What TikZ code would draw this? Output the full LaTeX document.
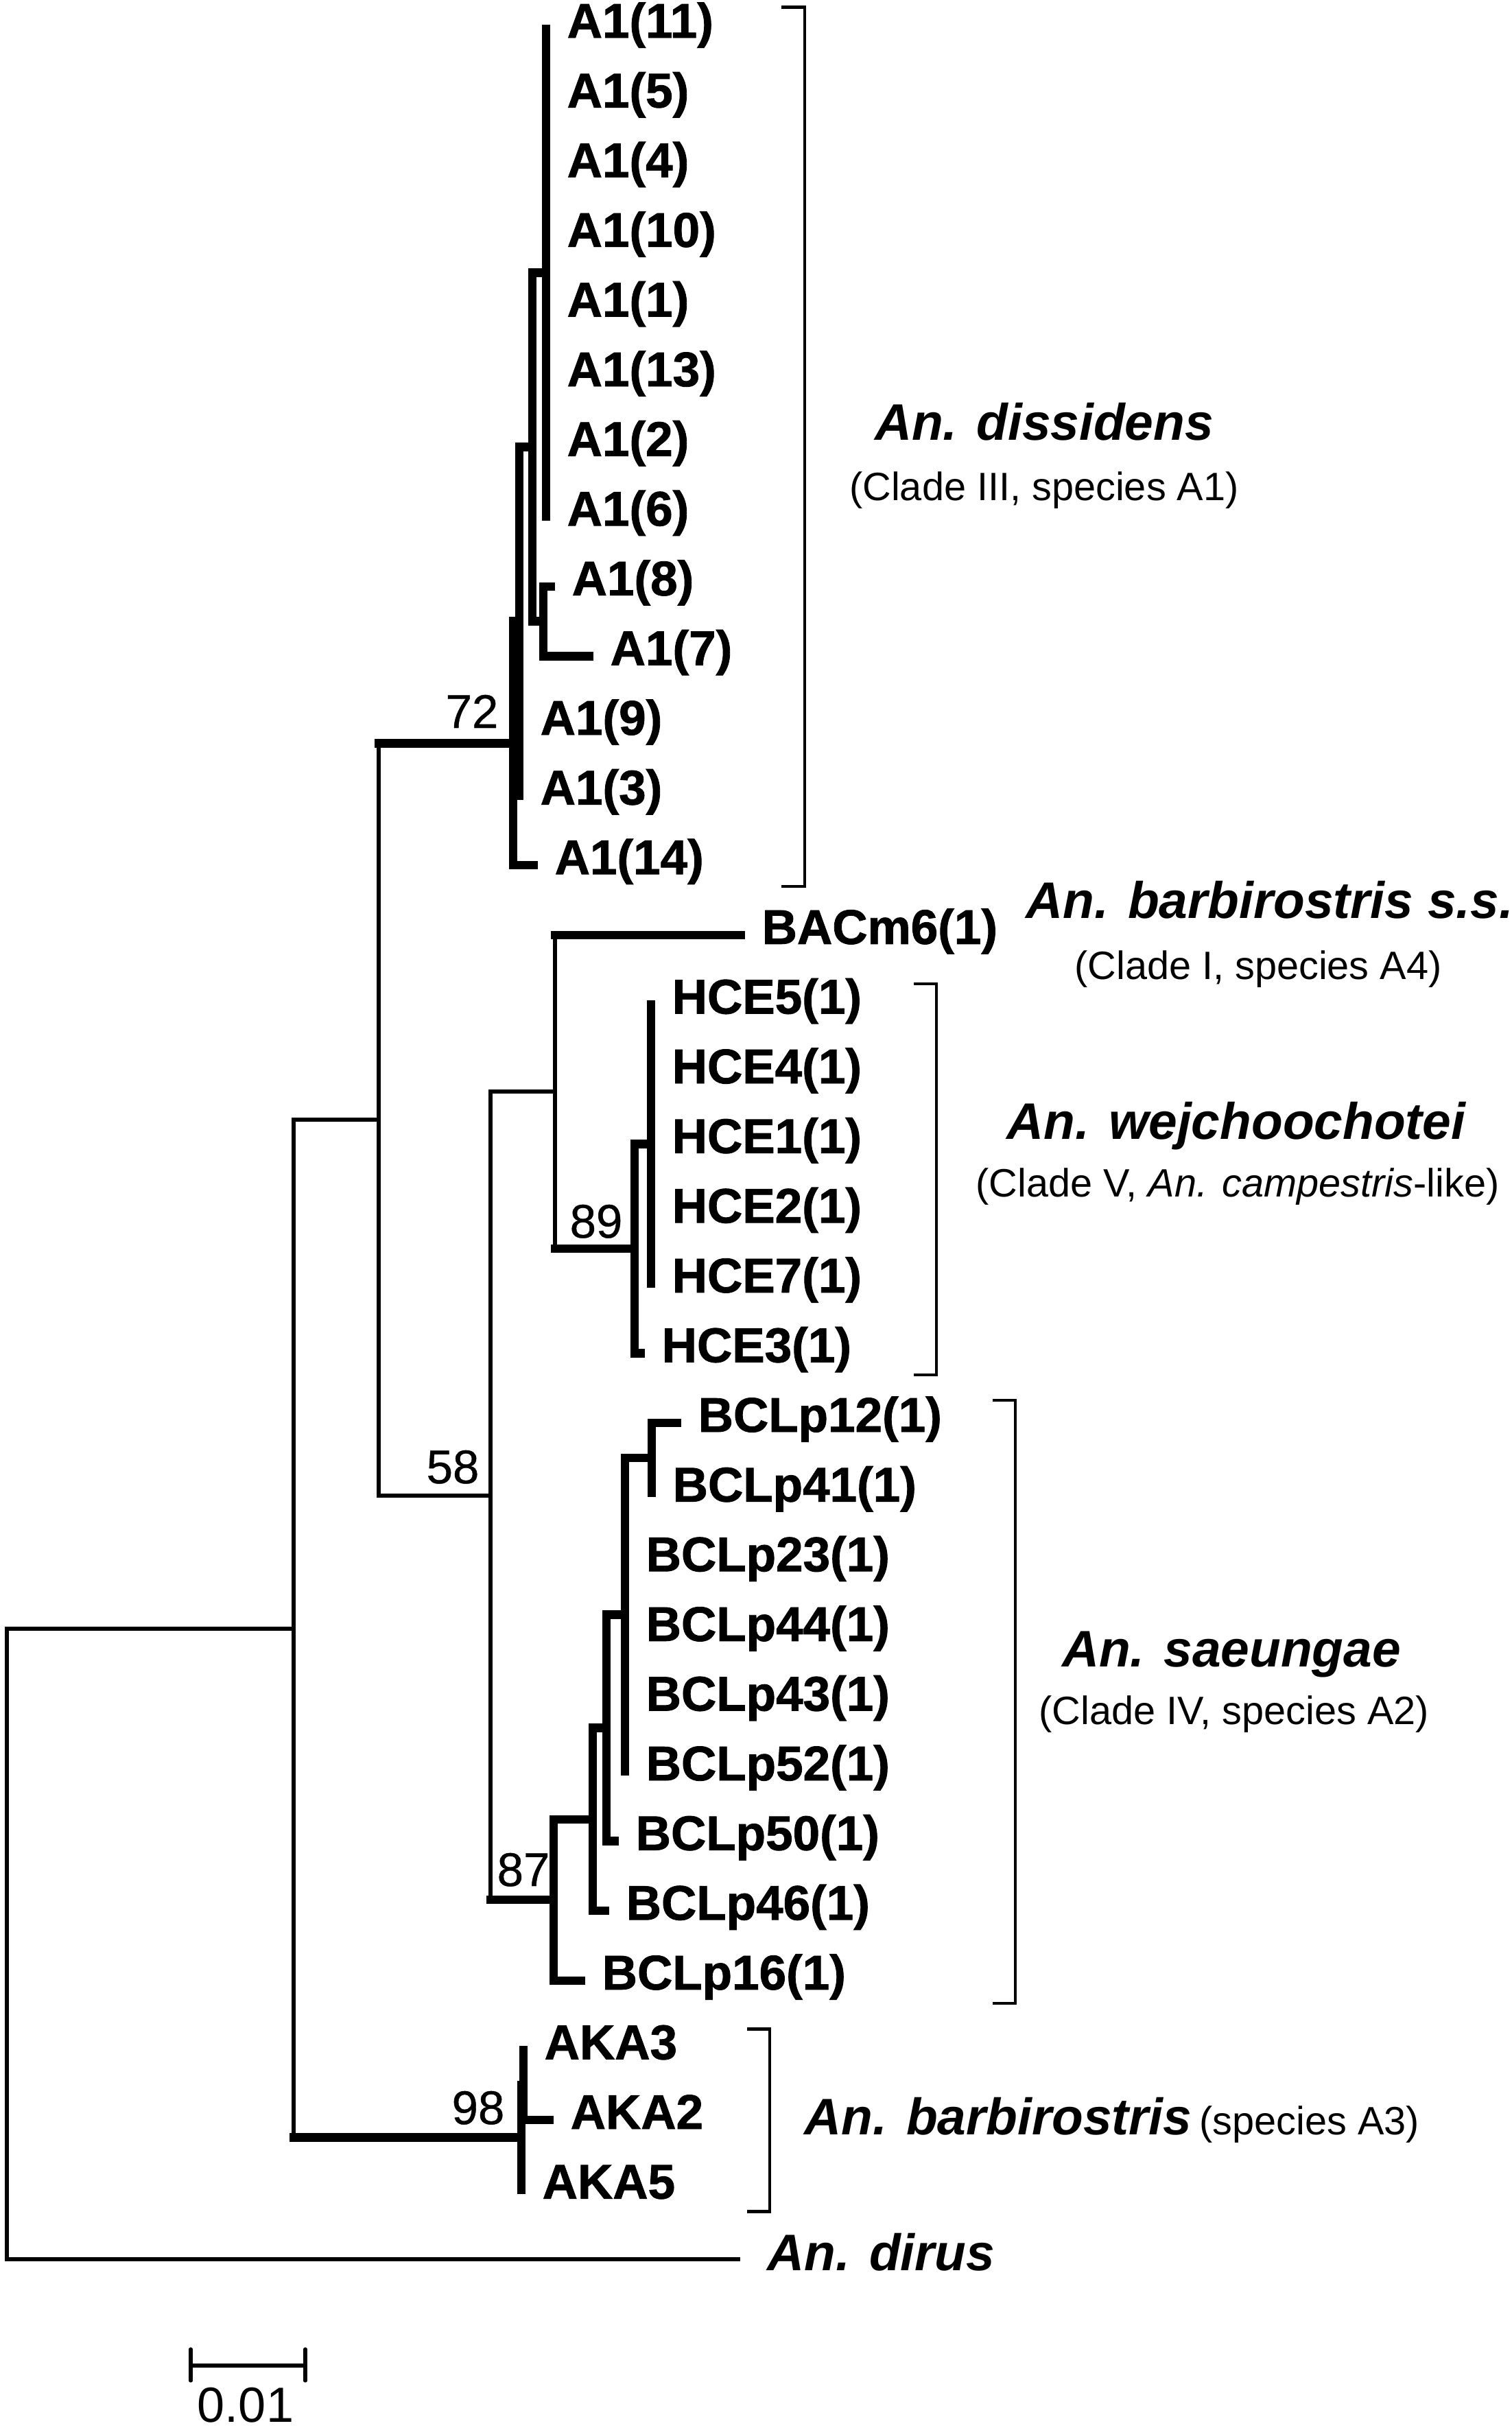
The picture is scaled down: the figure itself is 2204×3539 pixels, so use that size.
\documentclass[tikz,border=0pt]{standalone}
\usepackage{fontspec}
\setmainfont{Liberation Sans}
\newfontface\leafface[FakeBold=1.2]{Liberation Sans Bold}
\newfontface\bsface[FakeBold=0.6]{Liberation Sans}
\usetikzlibrary{calc}
\newcommand{\leaffont}{\fontsize{20.2pt}{24pt}\leafface}
\newcommand{\spfont}{\fontsize{21.3pt}{25pt}\selectfont\bfseries\itshape}
\newcommand{\descfont}{\fontsize{16.4pt}{19pt}\selectfont}
\newcommand{\bsfont}{\fontsize{19.6pt}{22pt}\bsface}
\newcommand{\vstem}[4]{% #1 line style, #2 node, #3 first child, #4 last child
  \draw[#1] (#2 |- #3) -- (#2 |- #4);}
\newcommand{\hbranch}[3]{% #1 line style, #2 parent node, #3 child
  \draw[#1] (#2 |- #3) -- (#3);}
\newcommand{\tip}[4]{% #1 name, #2 x, #3 y, #4 label
  \coordinate (#1) at (#2,#3);
  \node[leaf] (t#1) at (#1) {#4};}
\newcommand{\cladebracket}[4]{% #1 left x, #2 right x, #3 top y, #4 bottom y
  \draw[brk] (#1,#3) -- (#2,#3) -- (#2,#4) -- (#1,#4);}

\begin{document}
\begin{tikzpicture}[x=0.01cm, y=-0.01cm,
    thk/.style={line width=3.5pt, line cap=rect},
    thn/.style={line width=1.7pt, line cap=rect},
    brk/.style={line width=1.4pt},
    bar/.style={line width=1.5pt, line cap=round},
    leaf/.style={anchor=base west, inner sep=0pt, xshift=0.3cm, yshift=-0.13cm, font=\leaffont},
    boot/.style={anchor=base, inner sep=0pt, font=\bsfont},
    species/.style={anchor=base, inner sep=0pt, font=\spfont},
    desc/.style={anchor=base, inner sep=0pt, font=\descfont}]
  \useasboundingbox (0,0) rectangle (2204,3539);

  % internal nodes
  \coordinate (V1) at (796,397.6);
  \coordinate (V5) at (792,905.6);
  \coordinate (V2) at (776,651.6);
  \coordinate (V3) at (757,905.6);
  \coordinate (N72) at (748,1083.4);
  \coordinate (Nh) at (949,1667.6);
  \coordinate (Ng) at (925,1820);
  \coordinate (Nf) at (809,1591.4);
  \coordinate (Na) at (950,2124.8);
  \coordinate (Nb) at (911,2353.4);
  \coordinate (Nc) at (884,2518.5);
  \coordinate (Nd) at (864,2651.9);
  \coordinate (Ne) at (807,2769.3);
  \coordinate (N58) at (715,2180.4);
  \coordinate (N553) at (552,1631.9);
  \coordinate (Nk) at (763,3039.2);
  \coordinate (N98) at (760,3115.4);
  \coordinate (N428) at (428,2373.6);
  \coordinate (root) at (10,2833.4);

  % leaves
  \tip{a11}{796}{42}{A1(11)}
  \tip{a5}{796}{143.6}{A1(5)}
  \tip{a4}{796}{245.2}{A1(4)}
  \tip{a10}{796}{346.8}{A1(10)}
  \tip{a1}{796}{448.4}{A1(1)}
  \tip{a13}{796}{550}{A1(13)}
  \tip{a2}{796}{651.6}{A1(2)}
  \tip{a6}{796}{753.2}{A1(6)}
  \tip{a8}{803}{854.8}{A1(8)}
  \tip{a7}{859}{956.4}{A1(7)}
  \tip{a9}{757}{1058}{A1(9)}
  \tip{a3}{757}{1159.6}{A1(3)}
  \tip{a14}{778}{1261.2}{A1(14)}
  \tip{bac}{1080}{1362.8}{BACm6(1)}
  \tip{h5}{949}{1464.4}{HCE5(1)}
  \tip{h4}{949}{1566}{HCE4(1)}
  \tip{h1}{949}{1667.6}{HCE1(1)}
  \tip{h2}{949}{1769.2}{HCE2(1)}
  \tip{h7}{949}{1870.8}{HCE7(1)}
  \tip{h3}{934}{1972.4}{HCE3(1)}
  \tip{b12}{987}{2074}{BCLp12(1)}
  \tip{b41}{950}{2175.6}{BCLp41(1)}
  \tip{b23}{911}{2277.2}{BCLp23(1)}
  \tip{b44}{911}{2378.8}{BCLp44(1)}
  \tip{b43}{911}{2480.4}{BCLp43(1)}
  \tip{b52}{911}{2582}{BCLp52(1)}
  \tip{b50}{896}{2683.6}{BCLp50(1)}
  \tip{b46}{882}{2785.2}{BCLp46(1)}
  \tip{b16}{847}{2886.8}{BCLp16(1)}
  \tip{k3}{763}{2988.4}{AKA3}
  \tip{k2}{801}{3090}{AKA2}
  \tip{k5}{760}{3191.6}{AKA5}
  \coordinate (dir) at (1076,3293.2);
  \node[species, anchor=base west] (tdir) at (1118,3309) {An. dirus};

  % vertical lines
  \vstem{thk}{V1}{a11}{a6}
  \vstem{thk}{V5}{a8}{a7}
  \vstem{thk}{V2}{V1}{V5}
  \vstem{thk}{V3}{V2}{a3}
  \vstem{thk}{N72}{V3}{a14}
  \vstem{thk}{Nh}{h5}{h7}
  \vstem{thk}{Ng}{Nh}{h3}
  \vstem{thn}{Nf}{bac}{Ng}
  \vstem{thk}{Na}{b12}{b41}
  \vstem{thk}{Nb}{Na}{b52}
  \vstem{thk}{Nc}{Nb}{b50}
  \vstem{thk}{Nd}{Nc}{b46}
  \vstem{thk}{Ne}{Nd}{b16}
  \vstem{thn}{N58}{Nf}{Ne}
  \vstem{thn}{N553}{N72}{N58}
  \vstem{thk}{Nk}{k3}{k2}
  \vstem{thk}{N98}{Nk}{k5}
  \vstem{thn}{N428}{N553}{N98}
  \vstem{thn}{root}{N428}{dir}

  % horizontal branches
  \hbranch{thk}{V5}{a8}
  \hbranch{thk}{V5}{a7}
  \hbranch{thk}{V2}{V1}
  \hbranch{thk}{V2}{V5}
  \hbranch{thk}{V3}{V2}
  \hbranch{thk}{N72}{V3}
  \hbranch{thk}{N72}{a14}
  \hbranch{thk}{N553}{N72}
  \hbranch{thk}{Ng}{Nh}
  \hbranch{thk}{Ng}{h3}
  \hbranch{thk}{Nf}{bac}
  \hbranch{thk}{Nf}{Ng}
  \hbranch{thk}{Na}{b12}
  \hbranch{thk}{Nb}{Na}
  \hbranch{thk}{Nc}{Nb}
  \hbranch{thk}{Nc}{b50}
  \hbranch{thk}{Nd}{Nc}
  \hbranch{thk}{Nd}{b46}
  \hbranch{thk}{Ne}{Nd}
  \hbranch{thk}{Ne}{b16}
  \hbranch{thn}{N58}{Nf}
  \hbranch{thk}{N58}{Ne}
  \hbranch{thn}{N553}{N58}
  \hbranch{thk}{Nk}{k2}
  \hbranch{thk}{N98}{Nk}
  \hbranch{thn}{N428}{N553}
  \hbranch{thk}{N428}{N98}
  \hbranch{thn}{root}{N428}
  \hbranch{thn}{root}{dir}

  % bootstrap values
  \node[boot] (bs72) at (688,1061) {72};
  \node[boot] (bs89) at (869,1804) {89};
  \node[boot] (bs58) at (660,2162) {58};
  \node[boot] (bs87) at (763,2749) {87};
  \node[boot] (bs98) at (697,3096) {98};

  % clade brackets and names
  \cladebracket{1139}{1173}{10.5}{1292}
  \cladebracket{1332}{1365}{1434}{2004}
  \cladebracket{1447}{1480}{2041}{2920}
  \cladebracket{1089}{1122}{2957}{3223}
  \node[species] (sp1) at (1522,641) {An. dissidens};
  \node[desc] (ds1) at (1522,729) {(Clade III, species A1)};
  \node[species] (sp2) at (1851,1338) {An. barbirostris s.s.};
  \node[desc] (ds2) at (1834,1427) {(Clade I, species A4)};
  \node[species] (sp3) at (1802,1660) {An. wejchoochotei};
  \node[desc] (ds3) at (1804,1744) {(Clade V, \textit{An. campestris}-like)};
  \node[species] (sp4) at (1795,2429) {An. saeungae};
  \node[desc] (ds4) at (1799,2513) {(Clade IV, species A2)};
  \node[species, anchor=base west] (sp5) at (1172,3111) {An. barbirostris};
  \node[desc, anchor=base west] (ds5) at (1748,3111) {(species A3)};

  % scale bar
  \coordinate (sL) at (278,3448);
  \coordinate (sR) at (445,3448);
  \draw[bar] (sL) -- (sR);
  \draw[bar] ($(sL)+(0,-24)$) -- ($(sL)+(0,22)$);
  \draw[bar] ($(sR)+(0,-24)$) -- ($(sR)+(0,22)$);
  \node[boot, font=\fontsize{20.5pt}{24pt}\selectfont] (sc) at (358,3530) {0.01};
\end{tikzpicture}
\end{document}
